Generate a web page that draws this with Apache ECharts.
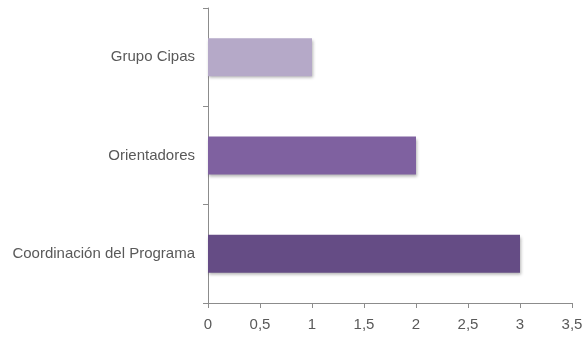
<!DOCTYPE html>
<html>
<head>
    <meta charset="utf-8">
    <script src="https://cdn.jsdelivr.net/npm/echarts@6/dist/echarts.min.js"></script>
</head>
<body style="margin:0;background:#fff;">
    <div id="container" style="width:586px;height:339px;"></div>
    <script type="text/javascript">
        // datos del grafico (de abajo hacia arriba)
        var categorias = ['Coordinación del Programa', 'Orientadores', 'Grupo Cipas'];
        var valores = [3, 2, 1];
        var colores = ['#654c85', '#7f61a0', '#b5a9c8'];

        var myChart = echarts.init(document.getElementById('container'));
        var axisColor = '#8c8c8c';
        var option = {
            animation: false,
            grid: { left: 208, right: 14, top: 8, bottom: 36 },
            xAxis: {
                type: 'value',
                min: 0,
                max: 3.5,
                interval: 0.5,
                axisLine: { show: true, lineStyle: { color: axisColor } },
                axisTick: { show: true, length: 5, lineStyle: { color: axisColor } },
                splitLine: { show: false },
                axisLabel: {
                    color: '#595959',
                    fontFamily: 'Liberation Sans',
                    fontSize: 15,
                    margin: 14,
                    formatter: function (v) { return String(v).replace('.', ','); }
                }
            },
            yAxis: {
                type: 'category',
                data: categorias,
                axisLine: { show: true, lineStyle: { color: axisColor } },
                axisTick: { show: true, length: 5, lineStyle: { color: axisColor } },
                axisLabel: {
                    color: '#595959',
                    fontFamily: 'Liberation Sans',
                    fontSize: 15,
                    margin: 13
                }
            },
            series: [{
                type: 'bar',
                barWidth: 38,
                data: valores.map(function (v, i) {
                    return {
                        value: v,
                        itemStyle: {
                            color: colores[i],
                            shadowColor: 'rgba(0,0,0,0.3)',
                            shadowBlur: 3,
                            shadowOffsetX: 1,
                            shadowOffsetY: 2
                        }
                    };
                })
            }]
        };
        myChart.setOption(option);
    </script>
</body>
</html>
